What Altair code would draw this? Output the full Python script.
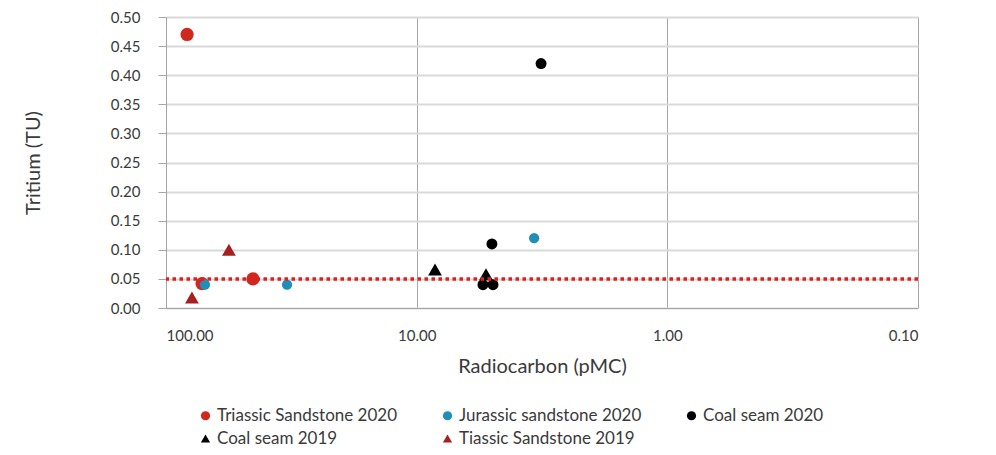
import altair as alt
import pandas as pd

series_names = ["Triassic Sandstone 2020", "Jurassic sandstone 2020", "Coal seam 2020",
                "Coal seam 2019", "Tiassic Sandstone 2019"]
series_colors = ["#d0281f", "#1f8fba", "#000000", "#000000", "#a81f22"]
series_shapes = ["circle", "circle", "circle", "triangle-up", "triangle-up"]
series_sizes = [175, 105, 120, 190, 190]

tri20_c14 = [82.4, 71.8, 45.0]
tri20_h3 = [0.47, 0.042, 0.05]
jur20_c14 = [69.9, 32.9, 3.40]
jur20_h3 = [0.04, 0.04, 0.12]
coal20_c14 = [3.19, 5.01, 5.44, 4.96]
coal20_h3 = [0.42, 0.11, 0.04, 0.04]
coal19_c14 = [8.45, 5.29]
coal19_h3 = [0.066, 0.058]
tri19_c14 = [56.1, 78.8]
tri19_h3 = [0.10, 0.018]

detection_limit = [0.05]
x_ticks = [100, 10, 1, 0.1]
y_ticks = [0.0, 0.05, 0.10, 0.15, 0.20, 0.25, 0.30, 0.35, 0.40, 0.45, 0.50]

FONT = "Lato"
TXT = "#3a3a3a"

x_enc = alt.X("c14:Q",
              scale=alt.Scale(type="log", domain=[0.1, 100], reverse=True, nice=False),
              axis=alt.Axis(values=x_ticks, format=".2f", title="Radiocarbon (pMC)",
                            grid=True, gridColor="#a6a6a6", gridWidth=1,
                            ticks=False, labelPadding=20, titlePadding=13,
                            domainColor="#a6a6a6", labelFontSize=15, titleFontSize=20,
                            labelColor=TXT, titleColor=TXT, labelOverlap=False,
                            titleFontWeight="normal", labelFont=FONT, titleFont=FONT))
y_axis = alt.Axis(values=y_ticks, format=".2f", title="Tritium (TU)",
                  grid=True, gridColor="#d9d9d9", gridWidth=2,
                  tickSize=8, tickColor="#a6a6a6", labelPadding=18,
                  titlePadding=67, domainColor="#a6a6a6", labelOverlap=False,
                  labelFontSize=15, titleFontSize=20,
                  labelColor=TXT, titleColor=TXT,
                  titleFontWeight="normal", labelFont=FONT, titleFont=FONT)
y_scale = alt.Scale(domain=[0, 0.5], nice=False)
y_enc = alt.Y("h3:Q", scale=y_scale, axis=y_axis)

legend = alt.Legend(title=None, orient="none", legendX=31, legendY=390,
                    direction="horizontal", labelLimit=400,
                    columns=3, columnPadding=41, rowPadding=5,
                    symbolSize=85, labelFontSize=17, labelFont=FONT,
                    labelColor=TXT, labelOffset=3)
color_enc = alt.Color("series:N", scale=alt.Scale(domain=series_names, range=series_colors),
                      legend=legend)
shape_enc = alt.Shape("series:N", scale=alt.Scale(domain=series_names, range=series_shapes),
                      legend=legend)

layers = []
for name, size, xs, ys in zip(series_names, series_sizes,
                              [tri20_c14, jur20_c14, coal20_c14, coal19_c14, tri19_c14],
                              [tri20_h3, jur20_h3, coal20_h3, coal19_h3, tri19_h3]):
    d = pd.DataFrame({"series": [name] * len(xs), "c14": xs, "h3": ys})
    layers.append(
        alt.Chart(d).mark_point(filled=True, opacity=1, size=size).encode(
            x=x_enc, y=y_enc, color=color_enc, shape=shape_enc)
    )

limit = alt.Chart(pd.DataFrame({"h3": detection_limit})).mark_rule(
    color="#e0201c", strokeWidth=3.5, strokeDash=[3.5, 3.5]
).encode(y=y_enc)

chart = alt.layer(*layers, limit).properties(
    width=752, height=291,
    padding={"left": 158, "top": 9, "right": 70, "bottom": 139},
    autosize=alt.AutoSizeParams(type="none"),
).configure_view(stroke="#d9d9d9", strokeWidth=1)

chart.save("out.html", embed_options={"renderer": "svg", "actions": False})
